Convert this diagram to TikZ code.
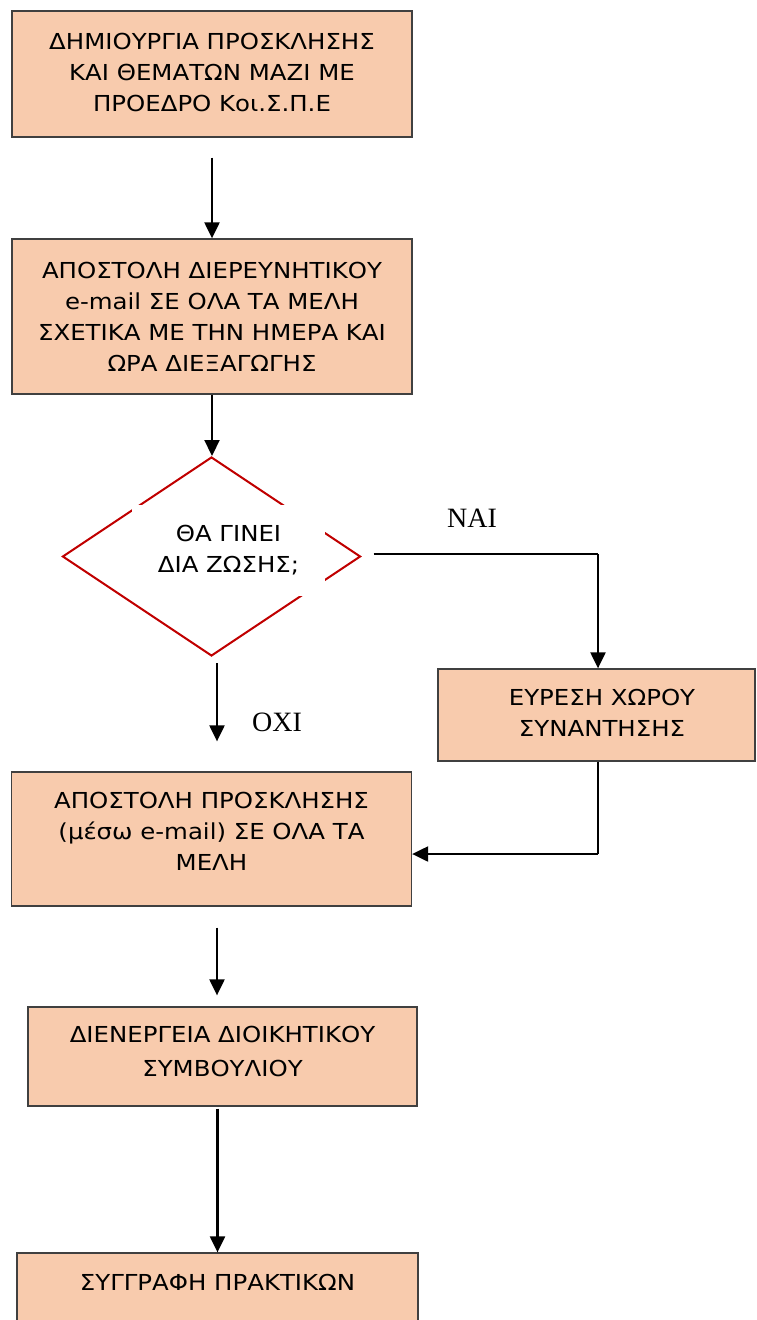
\documentclass[tikz,border=0pt]{standalone}
\usepackage{fontspec}
\setmainfont[FakeStretch=1.11]{DejaVu Sans}
\newfontfamily\lblfont{Liberation Serif}
\usetikzlibrary{arrows.meta,shapes.geometric}
\definecolor{peach}{HTML}{F8CBAD}
\definecolor{bord}{HTML}{404040}
\definecolor{dred}{HTML}{C00000}
\tikzset{
  box/.style={draw=bord, line width=1.3pt, fill=peach, rectangle, inner sep=0pt},
  txt/.style={align=center, inner sep=0pt, font=\fontsize{22}{31}\selectfont},
  arr/.style={line width=2.2pt, -{Triangle[length=16pt,width=15pt]}},
  thinline/.style={line width=1.2pt, draw=black},
  lbl/.style={inner sep=0pt, font=\lblfont\fontsize{28}{30}\selectfont},
}
\begin{document}
\begin{tikzpicture}[x=1pt,y=-1pt]
\useasboundingbox (0,0) rectangle (756,1320);
\clip (0,0) rectangle (756,1320);
% boxes
\node[box, minimum width=400pt, minimum height=126pt] (b1) at (212,74) {};
\node[txt] (t1) at (212,72.5) {ΔΗΜΙΟΥΡΓΙΑ ΠΡΟΣΚΛΗΣΗΣ\\ΚΑΙ ΘΕΜΑΤΩΝ ΜΑΖΙ ΜΕ\\ΠΡΟΕΔΡΟ Κοι.Σ.Π.Ε};
\node[box, minimum width=400pt, minimum height=155pt] (b2) at (212,316.5) {};
\node[txt] (t2) at (212,317) {ΑΠΟΣΤΟΛΗ ΔΙΕΡΕΥΝΗΤΙΚΟΥ\\e-mail ΣΕ ΟΛΑ ΤΑ ΜΕΛΗ\\ΣΧΕΤΙΚΑ ΜΕ ΤΗΝ ΗΜΕΡΑ ΚΑΙ\\ΩΡΑ ΔΙΕΞΑΓΩΓΗΣ};
% decision
\node[draw=dred, line width=2pt, diamond, inner sep=0pt, minimum width=298pt, minimum height=199pt] (d) at (211.5,556.5) {};
\node[txt, fill=white, minimum width=193pt, minimum height=91pt] (td) at (228.5,550.5) {ΘΑ ΓΙΝΕΙ\\ΔΙΑ ΖΩΣΗΣ;};
\node[box, minimum width=317pt, minimum height=92pt] (b3) at (596.5,715) {};
\node[txt] (t3) at (602,712.5) {ΕΥΡΕΣΗ ΧΩΡΟΥ\\ΣΥΝΑΝΤΗΣΗΣ};
\node[box, minimum width=400pt, minimum height=134pt] (b4) at (211.5,839) {};
\node[txt] (t4) at (211.5,831.5) {ΑΠΟΣΤΟΛΗ ΠΡΟΣΚΛΗΣΗΣ\\(μέσω e-mail) ΣΕ ΟΛΑ ΤΑ\\ΜΕΛΗ};
\node[box, minimum width=389pt, minimum height=99pt] (b5) at (222.5,1056.5) {};
\node[txt, font=\fontsize{22}{34}\selectfont] (t5) at (222.5,1051) {ΔΙΕΝΕΡΓΕΙΑ ΔΙΟΙΚΗΤΙΚΟΥ\\ΣΥΜΒΟΥΛΙΟΥ};
\node[box, minimum width=401pt, minimum height=80pt] (b6) at (217.5,1293) {};
\node[txt] (t6) at (217.5,1282) {ΣΥΓΓΡΑΦΗ ΠΡΑΚΤΙΚΩΝ};
% labels
\node[lbl] (nai) at (472,518) {ΝΑΙ};
\node[lbl] (oxi) at (277,722) {ΟΧΙ};
% connectors
\coordinate (c1) at (598,554);
\coordinate (c2) at (598,854);
\draw[arr, shorten <=20pt] (b1.south) -- (b2.north);
\draw[arr] (b2.south) -- (b2.south |- d.north);
\draw[arr, shorten <=6pt, shorten >=30pt] ([xshift=5.5pt]d.south) -- ([xshift=5.5pt]b4.north);
\draw[thinline, shorten <=12pt] (d.east |- c1) -- (c1);
\draw[arr] (c1) -- (c1 |- b3.north);
\draw[thinline] (c2 |- b3.south) -- (c2);
\draw[arr] (c2) -- (c2 -| b4.east);
\draw[arr, shorten <=21pt, shorten >=11pt] ([xshift=5.5pt]b4.south) -- ([xshift=5.5pt]b4.south |- b5.north);
\draw[arr, shorten <=2pt] (b5.south -| b6.north) -- (b6.north);
\end{tikzpicture}
\end{document}
